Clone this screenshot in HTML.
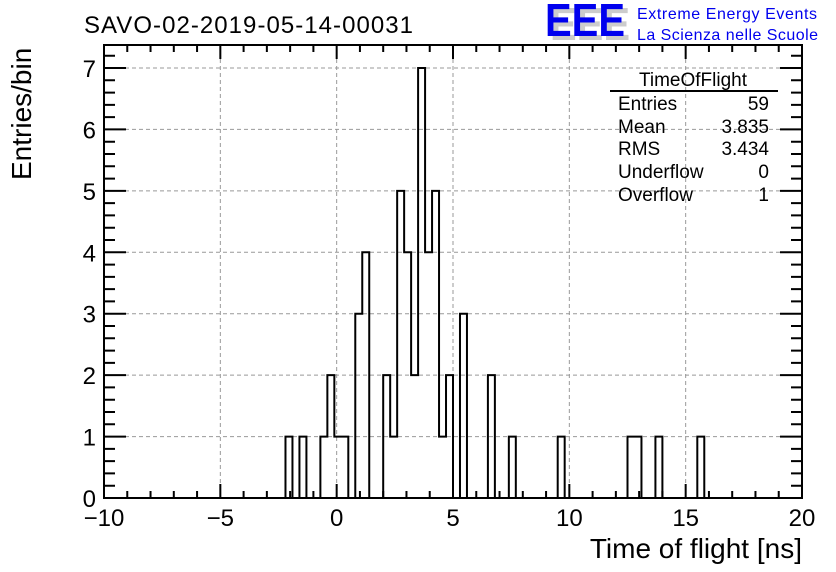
<!DOCTYPE html>
<html><head><meta charset="utf-8"><style>
html,body{margin:0;padding:0;background:#fff;}
svg{display:block;font-family:"Liberation Sans",sans-serif;}
</style></head><body>
<svg id="chart" width="836" height="572" viewBox="0 0 836 572">
<rect width="836" height="572" fill="#fff"/>
<g id="grid"></g>
<g id="ticks"></g>
<path id="hist" fill="none" stroke="#000" stroke-width="2"/>
<rect x="104" y="45" width="698" height="453" fill="none" stroke="#000" stroke-width="2"/>
<g id="labels" font-size="24"></g>
<text x="84" y="33" font-size="24" textLength="329">SAVO-02-2019-05-14-00031</text>
<text x="802" y="558" font-size="28" text-anchor="end">Time of flight [ns]</text>
<text transform="translate(31,180) rotate(-90)" font-size="28">Entries/bin</text>
<g>
<text x="550" y="40" font-size="46" font-weight="bold" fill="#ccc" textLength="80" lengthAdjust="spacingAndGlyphs">EEE</text>
<text x="545" y="36" font-size="46" font-weight="bold" fill="#0000ee" textLength="80" lengthAdjust="spacingAndGlyphs">EEE</text>
<text x="637" y="19" font-size="16" fill="#0000ee" textLength="180">Extreme Energy Events</text>
<text x="637" y="40" font-size="16" fill="#0000ee" textLength="181">La Scienza nelle Scuole</text>
</g>
<g font-size="19">
<text x="693" y="86" text-anchor="middle">TimeOfFlight</text>
<line x1="610" y1="91" x2="778" y2="91" stroke="#000" stroke-width="2"/>
<text x="618" y="110">Entries</text><text x="769" y="110" text-anchor="end">59</text>
<text x="618" y="133">Mean</text><text x="769" y="133" text-anchor="end">3.835</text>
<text x="618" y="155">RMS</text><text x="769" y="155" text-anchor="end">3.434</text>
<text x="618" y="178">Underflow</text><text x="769" y="178" text-anchor="end">0</text>
<text x="618" y="201">Overflow</text><text x="769" y="201" text-anchor="end">1</text>
</g>
</svg>
<script>
const binIndex = [26,28,31,32,33,34,36,37,40,41,42,43,44,45,46,47,48,49,51,55,58,65,75,76,79,85];
const binCounts = [1,1,1,2,1,1,3,4,2,1,5,4,2,7,4,5,1,2,3,2,1,1,1,1,1,1];
const xTicks = [-10,-5,0,5,10,15,20];
const yTicks = [0,1,2,3,4,5,6,7];
const xMin=-10, xMax=20, nBins=100, yMax=7;
const L=104,R=802,T=45,B=498, Y7=68;
const X=v=>L+(v-xMin)/(xMax-xMin)*(R-L);
const Y=v=>B-v*(B-Y7)/yMax;
const NS="http://www.w3.org/2000/svg";
function mk(tag,attrs,parent){const e=document.createElementNS(NS,tag);for(const k in attrs)e.setAttribute(k,attrs[k]);parent.appendChild(e);return e;}
const grid=document.getElementById('grid'),ticks=document.getElementById('ticks'),labels=document.getElementById('labels');
xTicks.forEach(v=>{
  if(v>xMin&&v<xMax){const g=mk('line',{x1:X(v),x2:X(v),y1:T,y2:B,stroke:'#999','stroke-dasharray':'4,3'},grid);
  
  }
  const t=mk('text',{x:X(v),y:526,'text-anchor':'middle'},labels);t.textContent=v<0?'\u2212'+(-v):v;
  
  
});
yTicks.forEach(v=>{
  if(v>0){const g=mk('line',{x1:L,x2:R,y1:Y(v),y2:Y(v),stroke:'#999','stroke-dasharray':'4,3'},grid);
  
  }
  const t=mk('text',{x:96,y:Y(v)+9,'text-anchor':'end'},labels);t.textContent=v;
  
  
});
let d='';
for(let v=xMin;v<=xMax;v+=1){const maj=v%5===0;const h=maj?14:7;
  d+=`M${X(v)},${B}v${-h}M${X(v)},${T}v${h}`;}
for(let v=0;v<=7.4;v+=0.2){const y=Y(v);if(y<T)break;const maj=Math.abs(v-Math.round(v))<1e-6;const w=maj?22:11;
  d+=`M${L},${y}h${w}M${R},${y}h${-w}`;}
const tp=mk('path',{d:d,stroke:'#000','stroke-width':2,fill:'none'},ticks);


const counts=new Array(nBins).fill(0);
binIndex.forEach((b,i)=>counts[b]=binCounts[i]);
const bw=(xMax-xMin)/nBins;
let p=`M${X(xMin)},${Y(0)}`;
for(let i=0;i<nBins;i++){const x0=X(xMin+i*bw),x1=X(xMin+(i+1)*bw);p+=`L${x0},${Y(counts[i])}L${x1},${Y(counts[i])}`;}
p+=`L${X(xMax)},${Y(0)}`;
document.getElementById('hist').setAttribute('d',p);
</script>
</body></html>
